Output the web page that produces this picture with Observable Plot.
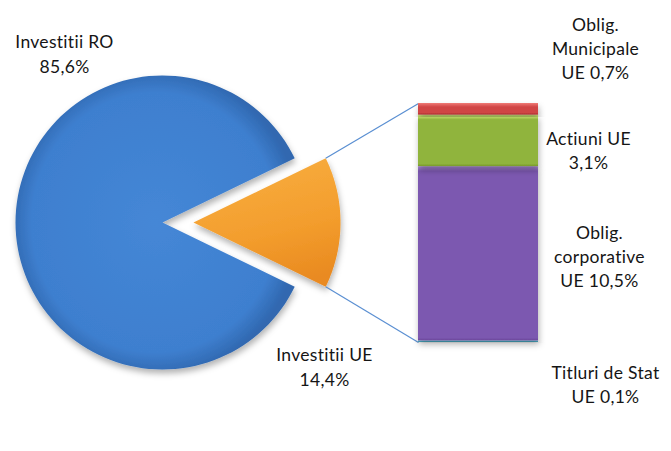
<!DOCTYPE html>
<html><head><meta charset="utf-8">
<script src="https://cdn.jsdelivr.net/npm/d3@7"></script>
<script src="https://cdn.jsdelivr.net/npm/@observablehq/plot@0.6"></script>
<style>
  body { margin: 0; background: #fff; }
  #chart { width: 671px; height: 451px; }
</style>
</head><body><div id="chart"></div>
<script>
// ---- data ----
const pieNames  = ["Investitii RO", "Investitii UE"];
const pieValues = [85.6, 14.4];
const pieLabels = ["85,6%", "14,4%"];

const barNames  = ["Titluri de Stat UE", "Oblig. corporative UE", "Actiuni UE", "Oblig. Municipale UE"];
const barValues = [0.1, 10.5, 3.1, 0.7];
const barLabels = ["Titluri de Stat\nUE 0,1%", "Oblig.\ncorporative\nUE 10,5%", "Actiuni UE\n3,1%", "Oblig.\nMunicipale\nUE 0,7%"];

// ---- layout & style ----
const W = 671, H = 451;
const CX = 162, CY = 222, R = 147, EXPLODE = 31;
const BAR = {x0: 418, x1: 538, top: 103, bottom: 342};
const pieLabelPos = [[64, 52], [324, 365]];
const barLabelPos = [[605, 383], [599, 255], [588, 149], [595, 47]];
const pieGrad = [
  [["0", "#4587d6"], ["0.85", "#3e7fcf"], ["1", "#3068b0"]],
  [["0", "#f8ae40"], ["0.6", "#f39d2d"], ["1", "#e98a20"]]
];
const barGrad = [
  ["#8fd3e6", "#4bacc6", "#3a8fa8"],
  ["#b293e0", "#7c58b0", "#6a4698"],
  ["#ddf385", "#90b43d", "#789a2b"],
  ["#ef7a76", "#d04444", "#a92c2c"]
];
const u = px => (px - CX) / R;
const v = py => (CY - py) / R;

// ---- pie geometry from data ----
const total = d3.sum(pieValues);
const half = pieValues[1] / total * Math.PI;
const sliceDefs = [
  {i: 0, a0: half, a1: 2 * Math.PI - half, ox: 0},
  {i: 1, a0: -half, a1: half, ox: EXPLODE / R}
];
const slicePts = sliceDefs.map(s => {
  const pts = [{x: s.ox, y: 0}];
  const n = 120;
  for (let k = 0; k <= n; k++) {
    const a = s.a0 + (s.a1 - s.a0) * k / n;
    pts.push({x: s.ox + Math.cos(a), y: Math.sin(a)});
  }
  return pts;
});

// ---- bar geometry from data ----
const barTotal = d3.sum(barValues);
const by = d3.scaleLinear([0, barTotal], [v(BAR.bottom), v(BAR.top)]);
let cum = 0;
const segs = barValues.map((val, i) => {
  const s = {i, name: barNames[i], y1: by(cum), y2: by(cum + val), px: val / barTotal * (BAR.bottom - BAR.top)};
  cum += val;
  return s;
});

// connectors: orange slice corners -> bar corners
const oc = sliceDefs[1];
const links = [
  {x1: oc.ox + Math.cos(half), y1: Math.sin(half), x2: u(BAR.x0), y2: by(barTotal)},
  {x1: oc.ox + Math.cos(-half), y1: Math.sin(-half), x2: u(BAR.x0), y2: by(0)}
];

const font = "Lato, 'Open Sans', sans-serif";
const textMarks = [
  ...pieLabelPos.map((p, i) => Plot.text([i], {
    x: () => u(p[0]), y: () => v(p[1]), text: () => pieNames[i] + "\n" + pieLabels[i],
    fontSize: 17.5, lineHeight: 1.45, fill: "#151515", fontFamily: font
  })),
  ...barLabelPos.map((p, i) => Plot.text([i], {
    x: () => u(p[0]), y: () => v(p[1]), text: () => barLabels[i],
    fontSize: 17.5, lineHeight: 1.36, fill: "#151515", fontFamily: font
  }))
];

const plot = Plot.plot({
  width: W, height: H,
  margin: 0,
  x: {domain: [u(0), u(W)], axis: null},
  y: {domain: [v(H), v(0)], axis: null},
  style: {background: "#fff", overflow: "visible"},
  marks: [
    ...slicePts.map((pts, i) => Plot.line(pts, {x: "x", y: "y", fill: `url(#pg${i})`, stroke: "none"})),
    Plot.link(links, {x1: "x1", y1: "y1", x2: "x2", y2: "y2", stroke: "#5a8fd2", strokeWidth: 1.2}),
    ...segs.map(s => Plot.rect([s], {
      x1: () => u(BAR.x0), x2: () => u(BAR.x1), y1: "y1", y2: "y2",
      fill: `url(#bg${s.i})`, stroke: "none"
    })),
    ...textMarks
  ]
});

// gradients & shadow
const svg = d3.select(plot);
const defs = svg.insert("defs", ":first-child");
pieGrad.forEach((stops, i) => {
  const g = i === 0
    ? defs.append("radialGradient").attr("id", "pg0").attr("cx", "0.5").attr("cy", "0.5").attr("r", "0.52")
    : defs.append("linearGradient").attr("id", "pg1").attr("x1", "0.3").attr("y1", "0").attr("x2", "0.6").attr("y2", "1");
  stops.forEach(([o, c]) => g.append("stop").attr("offset", o).attr("stop-color", c));
});
segs.forEach(s => {
  const [hi, mid, lo] = barGrad[s.i];
  const band = Math.min(0.35, 5 / Math.max(s.px, 1));
  const g = defs.append("linearGradient").attr("id", "bg" + s.i).attr("x1", 0).attr("y1", 0).attr("x2", 0).attr("y2", 1);
  g.append("stop").attr("offset", 0).attr("stop-color", hi);
  g.append("stop").attr("offset", band).attr("stop-color", mid);
  g.append("stop").attr("offset", 1 - band / 2).attr("stop-color", mid);
  g.append("stop").attr("offset", 1).attr("stop-color", lo);
});
const f = defs.append("filter").attr("id", "shadow").attr("x", "-20%").attr("y", "-20%").attr("width", "140%").attr("height", "140%");
f.append("feDropShadow").attr("dx", 1).attr("dy", 4).attr("stdDeviation", 3).attr("flood-color", "#000").attr("flood-opacity", 0.3);
svg.selectAll("g[aria-label=line] path").attr("filter", "url(#shadow)");
svg.selectAll("g[aria-label=rect] rect").attr("filter", "url(#shadow)");
svg.selectAll("g[aria-label=text] text").attr("letter-spacing", "0.3");

document.getElementById("chart").appendChild(plot);
</script>
</body></html>
